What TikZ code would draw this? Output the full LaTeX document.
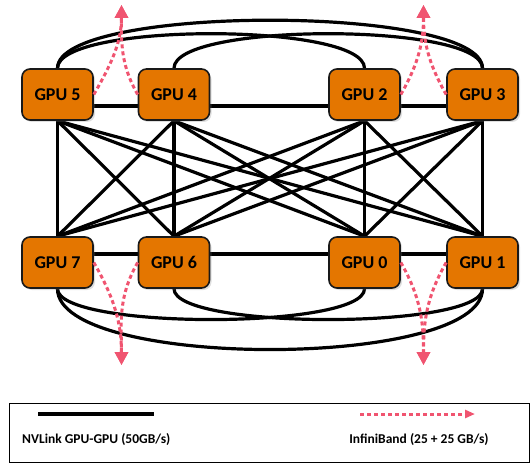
\documentclass[tikz,border=0pt]{standalone}
\usepackage{fontspec}
\setmainfont{Carlito}
\usetikzlibrary{arrows.meta,backgrounds,shadows}

\definecolor{gpuorange}{RGB}{228,118,0}
\definecolor{ibpink}{RGB}{240,84,112}

\tikzstyle{gpubox} = [draw=black!90, fill=gpuorange, line width=1.6pt,
    rectangle, rounded corners=8pt, minimum width=71pt, minimum height=51pt,
    inner sep=0pt, font=\fontsize{18}{18}\selectfont\bfseries,
    drop shadow={opacity=0.25, shadow xshift=2pt, shadow yshift=-2pt}]
\tikzstyle{nvlink} = [black, line width=3.2pt]
\tikzstyle{ibarrow} = [ibpink, line width=3pt, dash pattern=on 4pt off 3pt,
    -{Triangle[length=13pt,width=13pt]}]
\tikzstyle{legendtext} = [font=\fontsize{13.5}{13.5}\selectfont\bfseries, inner sep=0pt]

\begin{document}
\begin{tikzpicture}[x=1pt, y=1pt]
\useasboundingbox (0,0) rectangle (530,464);

% GPUs
\node [gpubox] (gpu5) at (57.5,369.5) {GPU 5};
\node [gpubox] (gpu4) at (174,369.5) {GPU 4};
\node [gpubox] (gpu2) at (364.5,369.5) {GPU 2};
\node [gpubox] (gpu3) at (482.5,369.5) {GPU 3};
\node [gpubox] (gpu7) at (57.5,201.5) {GPU 7};
\node [gpubox] (gpu6) at (174,201.5) {GPU 6};
\node [gpubox] (gpu0) at (364.5,201.5) {GPU 0};
\node [gpubox] (gpu1) at (482.5,201.5) {GPU 1};

% NVLink wiring, kept behind the boxes
\begin{scope}[on background layer]
\foreach \up in {gpu5,gpu4,gpu2,gpu3}
  \foreach \dn in {gpu7,gpu6,gpu0,gpu1}
    \draw [nvlink] (\up.south) -- (\dn.north);
\draw [nvlink] ([yshift=-11.5pt]gpu5.east) -- ([yshift=-11.5pt]gpu4.west);
\draw [nvlink] ([yshift=-11.5pt]gpu4.east) -- ([yshift=-11.5pt]gpu2.west);
\draw [nvlink] ([yshift=-11.5pt]gpu2.east) -- ([yshift=-11.5pt]gpu3.west);
\draw [nvlink] ([yshift=8.5pt]gpu7.east) -- ([yshift=8.5pt]gpu6.west);
\draw [nvlink] ([yshift=8.5pt]gpu6.east) -- ([yshift=8.5pt]gpu0.west);
\draw [nvlink] ([yshift=8.5pt]gpu0.east) -- ([yshift=8.5pt]gpu1.west);
% arcs over the top and under the bottom
\draw [nvlink] (gpu5.north) .. controls +(0,64) and +(0,64) .. (gpu3.north);
\draw [nvlink] (gpu5.north) .. controls +(0,46) and +(0,46) .. (gpu2.north);
\draw [nvlink] (gpu4.north) .. controls +(0,46) and +(0,46) .. (gpu3.north);
\draw [nvlink] (gpu7.south) .. controls +(0,-81) and +(0,-81) .. (gpu1.south);
\draw [nvlink] (gpu7.south) .. controls +(0,-41) and +(0,-41) .. (gpu0.south);
\draw [nvlink] (gpu6.south) .. controls +(0,-41) and +(0,-41) .. (gpu1.south);
\end{scope}

% InfiniBand uplinks
\coordinate (ibtl) at (121.5,459);
\coordinate (ibtr) at (423.5,459);
\coordinate (ibbl) at (121.5,99);
\coordinate (ibbr) at (423.5,99);
\draw [ibarrow] (gpu5.east) to[out=60,in=-90] (ibtl);
\draw [ibarrow] (gpu4.west) to[out=120,in=-90] (ibtl);
\draw [ibarrow] (gpu2.east) to[out=60,in=-90] (ibtr);
\draw [ibarrow] (gpu3.west) to[out=120,in=-90] (ibtr);
\draw [ibarrow] (gpu7.east) to[out=-60,in=90] (ibbl);
\draw [ibarrow] (gpu6.west) to[out=-120,in=90] (ibbl);
\draw [ibarrow] (gpu0.east) to[out=-60,in=90] (ibbr);
\draw [ibarrow] (gpu1.west) to[out=-120,in=90] (ibbr);

% legend
\node [draw, line width=1.2pt, rectangle, minimum width=520pt, minimum height=59pt,
    inner sep=0pt, anchor=south west] (legend) at (9,1) {};
\coordinate (nvA) at (38,50);
\coordinate (nvB) at (154,50);
\draw [black, line width=4pt] (nvA) -- (nvB);
\node [legendtext, anchor=west] (nvtext) at (22,24) {NVLink GPU-GPU (50GB/s)};
\coordinate (ibA) at (360,50);
\coordinate (ibB) at (475,50);
\draw [ibarrow, -{Triangle[length=10pt,width=8pt]}] (ibA) -- (ibB);
\node [legendtext] (ibtext) at (419,24) {InfiniBand (25 + 25 GB/s)};
\end{tikzpicture}
\end{document}
